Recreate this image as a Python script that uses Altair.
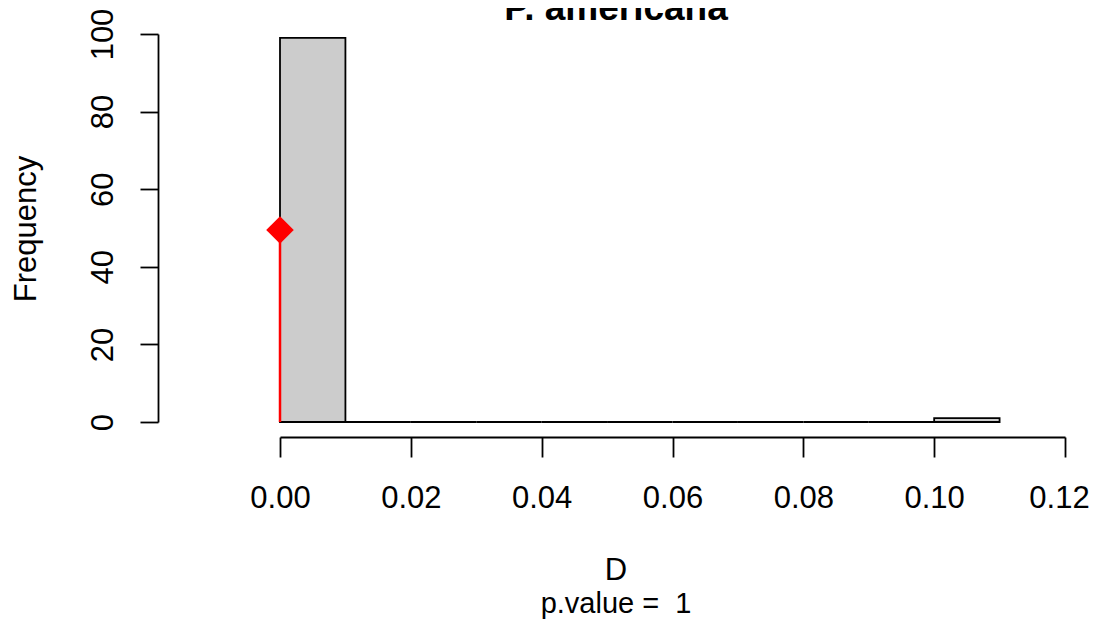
import altair as alt
import pandas as pd

# histogram bins (D) and counts
bin_lo = [0.00, 0.01, 0.02, 0.03, 0.04, 0.05, 0.06, 0.07, 0.08, 0.09, 0.10]
bin_hi = [0.01, 0.02, 0.03, 0.04, 0.05, 0.06, 0.07, 0.08, 0.09, 0.10, 0.11]
counts = [99, 0, 0, 0, 0, 0, 0, 0, 0, 0, 1]

# observed statistic marker
obs_x = [0.0]
obs_y = [49.5]

x_ticks = [0.00, 0.02, 0.04, 0.06, 0.08, 0.10, 0.12]
y_ticks = [0, 20, 40, 60, 80, 100]

title_text = "P. americana"
x_title = "D"
y_title = "Frequency"
sub_text = "p.value =\u00a0\u00a01"

FONT = "Liberation Sans"

hist = pd.DataFrame({"lo": bin_lo, "hi": bin_hi, "count": counts, "base": [0] * len(counts)})
obs = pd.DataFrame({"lo": obs_x, "y": obs_y, "base": [0] * len(obs_x)})

xscale = alt.Scale(domain=[0, 0.12], nice=False, zero=False)
yscale = alt.Scale(domain=[0, 100], nice=False)

xaxis = alt.Axis(
    values=x_ticks, format=".2f", title=None, offset=15, tickSize=20,
    labelPadding=50, labelBaseline="alphabetic", labelFontSize=31,
    labelOffset={"condition": {"test": "datum.value >= 0.119", "value": -6}, "value": 0},
    labelFlush=False, labelOverlap=False, grid=False)
yaxis = alt.Axis(
    values=y_ticks, title=None, offset=122, tickSize=18,
    labelAngle=270, labelAlign="center", labelBaseline="alphabetic",
    labelPadding=28, labelFontSize=31, grid=False)

bars = alt.Chart(hist).mark_rect(
    fill="#cccccc", stroke="black", strokeWidth=1.8
).encode(
    x=alt.X("lo:Q", scale=xscale, axis=xaxis),
    x2="hi:Q",
    y=alt.Y("base:Q", scale=yscale, axis=yaxis),
    y2="count:Q",
)

rule = alt.Chart(obs).mark_rule(color="red", strokeWidth=2.5).encode(
    x=alt.X("lo:Q", scale=xscale, axis=xaxis),
    y=alt.Y("base:Q", scale=yscale, axis=yaxis),
    y2="y:Q",
)

point = alt.Chart(obs).mark_point(
    shape="diamond", filled=True, color="red", opacity=1, size=760
).encode(
    x=alt.X("lo:Q", scale=xscale, axis=xaxis),
    y=alt.Y("y:Q", scale=yscale, axis=yaxis),
)

def label(text, x, y, size=31, angle=0, weight="normal"):
    return alt.Chart(pd.DataFrame({"t": [text]})).mark_text(
        font=FONT, fontSize=size, fontWeight=weight, angle=angle,
        align="center", baseline="alphabetic", color="black"
    ).encode(text="t:N", x=alt.value(x), y=alt.value(y))

title_l = label(title_text, 336, -14, size=37, weight="bold")
xt = label(x_title, 336, 546)
yt = label(y_title, -244, 195, angle=270)
sub = label(sub_text, 336, 579, size=29)

chart = alt.layer(bars, rule, point, title_l, xt, yt, sub).properties(
    width=785, height=388,
    padding={"left": 272, "top": 26, "right": 25, "bottom": 197},
    autosize=alt.AutoSizeParams(type="none"),
    background="white",
).configure_view(strokeWidth=0, stroke="transparent").configure_axis(
    domainColor="black", domainWidth=1.8, tickColor="black", tickWidth=1.8,
    labelColor="black", labelFont=FONT, titleFont=FONT,
)

chart.save("out.html", embed_options={"renderer": "svg", "actions": False})
